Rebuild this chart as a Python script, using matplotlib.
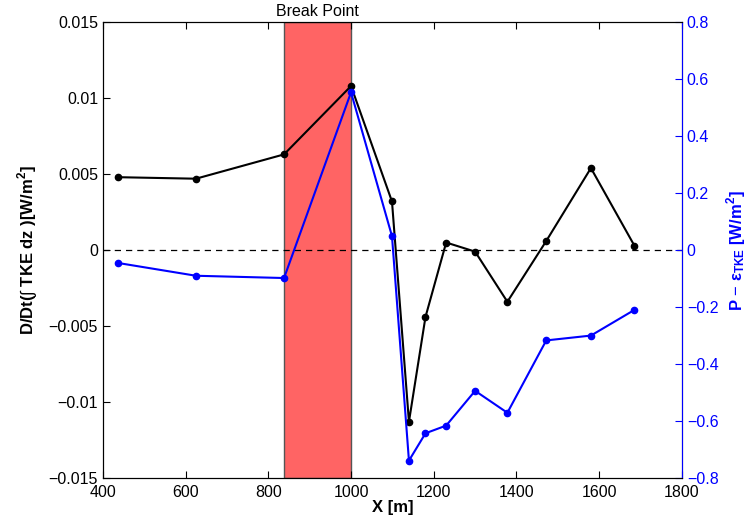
import numpy as np
import matplotlib
matplotlib.use("Agg")
import matplotlib.pyplot as plt

plt.rcParams["font.family"] = ["Liberation Sans", "DejaVu Sans"]
plt.rcParams["mathtext.fontset"] = "custom"
plt.rcParams["mathtext.rm"] = "Liberation Sans"
plt.rcParams["mathtext.bf"] = "Liberation Sans:bold"

# cross-shore positions [m]
x = [436, 625, 838, 1000, 1099, 1140, 1180, 1230, 1300, 1378, 1472, 1580, 1685]
# D/Dt of depth-integrated TKE [W/m^2]
dtke = [0.0048, 0.0047, 0.0063, 0.0108, 0.0032, -0.0113, -0.0044, 0.0005,
        -0.0001, -0.0034, 0.0006, 0.0054, 0.0003]
# production minus dissipation [W/m^2]
p_eps = [-0.045, -0.09, -0.098, 0.554, 0.049, -0.739, -0.643, -0.616,
         -0.494, -0.571, -0.317, -0.30, -0.21]
break_zone = (838, 1000)

fig = plt.figure(figsize=(7.51, 5.29), dpi=100)
ax = fig.add_axes([0.137, 0.0964, 0.771, 0.8616])

ax.axvspan(break_zone[0], break_zone[1], facecolor="#ff6464", edgecolor="#555555", lw=1, zorder=0)
ax.axhline(0, color="black", ls=(0, (5, 4)), lw=0.9)
ax.plot(x, dtke, "-o", color="black", lw=1.5, ms=4.5, zorder=3)

ax.set_xlim(400, 1800)
ax.set_ylim(-0.015, 0.015)
ax.set_xticks(np.arange(400, 1801, 200))
ax.set_yticks(np.arange(-0.015, 0.0151, 0.005))
ax.set_yticklabels(["\u22120.015", "\u22120.01", "\u22120.005", "0", "0.005", "0.01", "0.015"])
ax.tick_params(direction="in", labelsize=11.5, top=True, length=5)
ax.tick_params(axis="x", pad=5)
ax.set_xlabel("X [m]", fontsize=12, fontweight="bold", labelpad=0)
ax.set_ylabel(r"D/Dt($\int$ TKE dz )[W/m$^\mathbf{2}$]", fontsize=12, fontweight="bold", labelpad=6)
ax.text(sum(break_zone) / 2, 0.0152, "Break Point", ha="center", va="bottom", fontsize=11.5)

ax2 = ax.twinx()
ax2.plot(x, p_eps, "-o", color="blue", lw=1.5, ms=4.5, zorder=3)
ax2.set_ylim(-0.8, 0.8)
ax2.set_yticks(np.arange(-0.8, 0.81, 0.2))
ax2.set_yticklabels(["\u22120.8", "\u22120.6", "\u22120.4", "\u22120.2", "0", "0.2", "0.4", "0.6", "0.8"])
ax2.tick_params(axis="y", direction="in", colors="blue", labelsize=11.5, length=5)
ax2.spines["right"].set_color("blue")
ax2.set_ylabel(r"P $-$ $\mathbf{\varepsilon_{TKE}}$ [W/m$^\mathbf{2}$]", color="blue", fontsize=12, fontweight="bold", labelpad=4)

fig.savefig("out.png", dpi=100)
